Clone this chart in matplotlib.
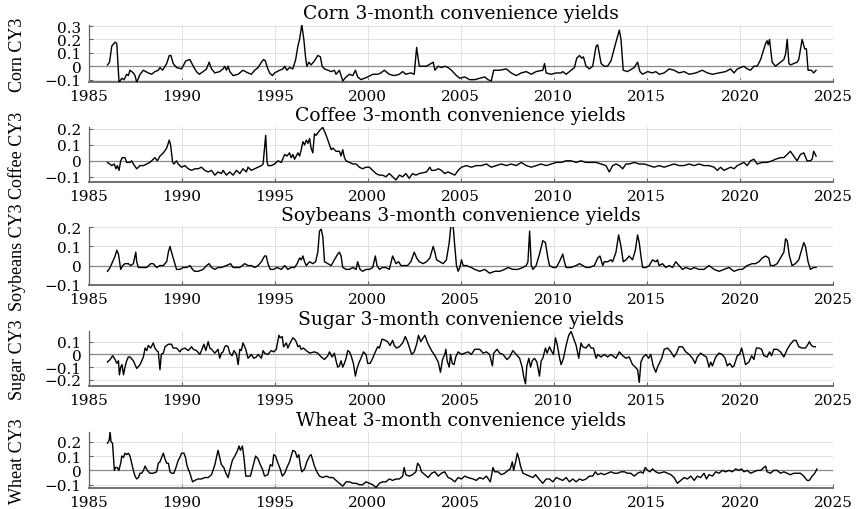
import matplotlib.pyplot as plt

plt.rcParams['font.family'] = 'DejaVu Serif'
plt.rcParams['axes.unicode_minus'] = True

# values (decimal years, convenience yield)
corn_t = [1986.02, 1986.13, 1986.25, 1986.43, 1986.52, 1986.64, 1986.79, 1986.91, 1987.05, 1987.14,
          1987.23, 1987.41, 1987.50, 1987.59, 1987.77, 1987.95, 1988.21, 1988.39, 1988.57, 1988.75,
          1988.84, 1988.98, 1989.20, 1989.34, 1989.43, 1989.55, 1989.73, 1990.00, 1990.23, 1990.45,
          1990.63, 1990.80, 1990.95, 1991.16, 1991.34, 1991.48, 1991.61, 1991.79, 1992.05, 1992.23,
          1992.32, 1992.41, 1992.50, 1992.59, 1992.77, 1993.04, 1993.30, 1993.57, 1993.75, 1993.93,
          1994.11, 1994.29, 1994.41, 1994.50, 1994.61, 1994.73, 1994.88, 1995.00, 1995.27, 1995.45,
          1995.54, 1995.66, 1995.80, 1995.98, 1996.13, 1996.25, 1996.34, 1996.46, 1996.57, 1996.66,
          1996.73, 1996.84, 1996.96, 1997.14, 1997.32, 1997.46, 1997.55, 1997.68, 1997.86, 1998.04,
          1998.21, 1998.30, 1998.48, 1998.66, 1998.84, 1999.02, 1999.20, 1999.34, 1999.46, 1999.64,
          1999.82, 2000.00, 2000.27, 2000.54, 2000.71, 2000.89, 2001.16, 2001.43, 2001.70, 2001.88,
          2002.05, 2002.32, 2002.50, 2002.63, 2002.77, 2003.16, 2003.52, 2003.61, 2003.79, 2003.96,
          2004.14, 2004.32, 2004.50, 2004.77, 2004.95, 2005.21, 2005.48, 2005.75, 2006.02, 2006.29,
          2006.46, 2006.64, 2006.77, 2007.09, 2007.45, 2007.71, 2007.98, 2008.25, 2008.52, 2008.79,
          2009.05, 2009.41, 2009.50, 2009.59, 2009.86, 2010.13, 2010.39, 2010.48, 2010.66, 2010.93,
          2011.11, 2011.23, 2011.38, 2011.50, 2011.59, 2011.73, 2011.91, 2012.09, 2012.27, 2012.36,
          2012.54, 2012.71, 2012.89, 2013.07, 2013.34, 2013.52, 2013.61, 2013.73, 2013.96, 2014.32,
          2014.50, 2014.63, 2014.77, 2015.04, 2015.30, 2015.48, 2015.66, 2015.93, 2016.20, 2016.46,
          2016.73, 2017.00, 2017.27, 2017.63, 2017.98, 2018.25, 2018.52, 2018.88, 2019.23, 2019.50,
          2019.68, 2019.86, 2020.04, 2020.21, 2020.39, 2020.57, 2020.75, 2020.93, 2021.11, 2021.29,
          2021.38, 2021.46, 2021.52, 2021.59, 2021.73, 2021.91, 2022.09, 2022.36, 2022.45, 2022.54,
          2022.63, 2022.71, 2022.89, 2023.07, 2023.16, 2023.34, 2023.48, 2023.57, 2023.66, 2023.84,
          2023.96, 2024.09]
corn_cy = [0.01, 0.03, 0.15, 0.18, 0.17, -0.12, -0.09, -0.10, -0.06, -0.07,
           -0.03, -0.05, -0.07, -0.12, -0.06, -0.03, -0.05, -0.06, -0.04, -0.03,
           -0.01, -0.03, 0.02, 0.08, 0.08, 0.02, -0.01, -0.02, 0.04, 0.05,
           0.00, -0.04, -0.06, -0.04, -0.02, 0.03, -0.02, -0.05, -0.04, -0.02,
           0.00, -0.03, 0.00, -0.04, -0.07, -0.06, -0.03, -0.05, -0.06, -0.03,
           -0.01, 0.03, 0.05, 0.04, -0.01, -0.05, -0.07, -0.05, -0.03, -0.02,
           0.00, -0.03, -0.01, -0.02, 0.05, 0.15, 0.20, 0.31, 0.20, 0.07,
           0.00, 0.03, 0.01, 0.04, 0.08, 0.07, 0.00, -0.02, -0.03, -0.04,
           -0.03, -0.06, -0.03, -0.11, -0.08, -0.06, -0.07, -0.03, -0.08, -0.10,
           -0.09, -0.08, -0.06, -0.06, -0.05, -0.03, -0.06, -0.07, -0.06, -0.04,
           -0.06, -0.05, -0.06, 0.14, 0.00, 0.00, 0.03, -0.03, 0.00, -0.01,
           0.00, -0.01, -0.03, -0.07, -0.09, -0.08, -0.10, -0.10, -0.09, -0.08,
           -0.10, -0.11, -0.03, -0.03, -0.02, -0.05, -0.07, -0.05, -0.04, -0.06,
           -0.04, -0.03, 0.02, -0.05, -0.06, -0.05, -0.05, -0.04, -0.06, -0.03,
           -0.01, 0.06, 0.08, 0.06, 0.07, 0.00, -0.02, 0.00, 0.15, 0.16,
           0.02, 0.00, 0.00, 0.04, 0.18, 0.27, 0.20, -0.03, -0.04, -0.01,
           0.03, -0.04, -0.06, -0.04, -0.05, -0.04, -0.06, -0.05, -0.02, -0.03,
           -0.05, -0.04, -0.06, -0.05, -0.03, -0.05, -0.06, -0.05, -0.04, -0.02,
           -0.05, -0.02, -0.01, 0.00, -0.02, -0.03, 0.00, 0.00, 0.05, 0.13,
           0.17, 0.19, 0.16, 0.20, 0.03, 0.00, 0.02, 0.05, 0.09, 0.20,
           0.02, 0.01, 0.02, 0.03, 0.05, 0.20, 0.13, 0.13, -0.03, -0.03,
           -0.05, -0.03]

coffee_t = [1986.02, 1986.25, 1986.38, 1986.48, 1986.55, 1986.64, 1986.73, 1986.82, 1986.96, 1987.05,
            1987.23, 1987.32, 1987.41, 1987.59, 1987.77, 1987.95, 1988.13, 1988.30, 1988.48, 1988.57,
            1988.70, 1988.84, 1989.02, 1989.20, 1989.34, 1989.41, 1989.52, 1989.59, 1989.73, 1989.82,
            1990.00, 1990.18, 1990.36, 1990.54, 1990.71, 1990.89, 1991.07, 1991.25, 1991.43, 1991.61,
            1991.79, 1991.96, 1992.14, 1992.23, 1992.41, 1992.59, 1992.77, 1992.95, 1993.13, 1993.30,
            1993.48, 1993.57, 1993.75, 1993.93, 1994.11, 1994.29, 1994.38, 1994.46, 1994.52, 1994.59,
            1994.64, 1994.82, 1995.00, 1995.18, 1995.36, 1995.54, 1995.66, 1995.80, 1995.89, 1995.98,
            1996.07, 1996.25, 1996.34, 1996.43, 1996.52, 1996.61, 1996.70, 1996.79, 1996.88, 1996.96,
            1997.05, 1997.14, 1997.23, 1997.41, 1997.59, 1997.77, 1997.86, 1997.95, 1998.04, 1998.13,
            1998.30, 1998.48, 1998.57, 1998.66, 1998.75, 1998.84, 1999.02, 1999.20, 1999.38, 1999.55,
            1999.73, 1999.91, 2000.09, 2000.27, 2000.45, 2000.63, 2000.80, 2000.98, 2001.16, 2001.34,
            2001.52, 2001.70, 2001.88, 2002.05, 2002.23, 2002.41, 2002.59, 2002.77, 2003.16, 2003.34,
            2003.43, 2003.61, 2003.79, 2003.96, 2004.14, 2004.32, 2004.50, 2004.68, 2004.86, 2005.04,
            2005.30, 2005.57, 2005.84, 2006.11, 2006.38, 2006.64, 2006.91, 2007.18, 2007.45, 2007.71,
            2007.98, 2008.25, 2008.52, 2008.79, 2009.05, 2009.32, 2009.59, 2009.86, 2010.13, 2010.39,
            2010.66, 2010.93, 2011.20, 2011.46, 2011.73, 2012.00, 2012.27, 2012.54, 2012.80, 2012.98,
            2013.16, 2013.34, 2013.52, 2013.70, 2013.88, 2014.05, 2014.32, 2014.59, 2014.86, 2015.13,
            2015.39, 2015.66, 2015.93, 2016.20, 2016.46, 2016.73, 2017.00, 2017.27, 2017.54, 2017.80,
            2018.07, 2018.34, 2018.61, 2018.79, 2018.96, 2019.14, 2019.32, 2019.50, 2019.68, 2019.86,
            2020.04, 2020.21, 2020.39, 2020.57, 2020.75, 2020.93, 2021.20, 2021.46, 2021.73, 2021.91,
            2022.18, 2022.36, 2022.54, 2022.71, 2022.89, 2023.07, 2023.25, 2023.43, 2023.61, 2023.79,
            2023.88, 2023.96, 2024.09]
coffee_cy = [-0.01, -0.03, -0.02, -0.05, -0.03, -0.06, 0.00, 0.02, 0.02, -0.01,
             -0.01, 0.00, -0.02, -0.05, -0.03, -0.03, -0.02, -0.01, 0.01, 0.02,
             0.00, 0.03, 0.05, 0.08, 0.13, 0.10, -0.01, -0.02, 0.00, -0.02,
             -0.04, -0.03, -0.05, -0.06, -0.05, -0.05, -0.04, -0.06, -0.07, -0.06,
             -0.09, -0.07, -0.08, -0.06, -0.09, -0.07, -0.09, -0.06, -0.08, -0.05,
             -0.07, -0.04, -0.06, -0.05, -0.04, -0.03, -0.02, 0.08, 0.16, 0.00,
             -0.03, -0.03, -0.02, 0.00, -0.01, 0.04, 0.03, 0.05, 0.02, 0.04,
             0.01, 0.05, 0.03, 0.07, 0.12, 0.10, 0.13, 0.11, 0.14, 0.08,
             0.05, 0.17, 0.16, 0.19, 0.21, 0.16, 0.13, 0.10, 0.07, 0.08,
             0.06, 0.06, 0.03, 0.07, 0.02, 0.00, -0.01, -0.02, -0.02, -0.04,
             -0.05, -0.04, -0.04, -0.06, -0.08, -0.09, -0.09, -0.10, -0.08, -0.10,
             -0.12, -0.09, -0.10, -0.08, -0.11, -0.08, -0.09, -0.08, -0.07, -0.04,
             -0.06, -0.06, -0.05, -0.06, -0.08, -0.07, -0.08, -0.09, -0.06, -0.04,
             -0.03, -0.04, -0.03, -0.03, -0.02, -0.04, -0.03, -0.02, -0.03, -0.02,
             -0.03, -0.01, -0.03, -0.04, -0.03, -0.02, -0.03, -0.02, -0.01, -0.01,
             0.00, 0.00, -0.01, 0.00, -0.01, -0.01, -0.01, -0.02, -0.03, -0.07,
             -0.03, -0.02, -0.03, -0.05, -0.02, -0.02, -0.01, -0.02, -0.02, -0.03,
             -0.04, -0.03, -0.04, -0.03, -0.02, -0.03, -0.03, -0.02, -0.03, -0.02,
             -0.03, -0.03, -0.04, -0.06, -0.04, -0.06, -0.05, -0.04, -0.05, -0.03,
             -0.02, -0.01, -0.03, 0.00, 0.01, -0.02, -0.01, -0.01, 0.00, 0.01,
             0.02, 0.02, 0.04, 0.06, 0.03, 0.00, 0.04, 0.05, 0.00, 0.00,
             0.01, 0.06, 0.03]

soy_t = [1986.02, 1986.16, 1986.34, 1986.43, 1986.52, 1986.61, 1986.73, 1986.84, 1986.96, 1987.14,
         1987.27, 1987.41, 1987.54, 1987.59, 1987.68, 1987.86, 1988.13, 1988.34, 1988.48, 1988.66,
         1988.84, 1989.02, 1989.20, 1989.29, 1989.38, 1989.46, 1989.55, 1989.64, 1989.73, 1989.91,
         1990.09, 1990.27, 1990.45, 1990.59, 1990.71, 1990.89, 1991.16, 1991.34, 1991.48, 1991.61,
         1991.79, 1991.96, 1992.14, 1992.41, 1992.63, 1992.77, 1992.95, 1993.13, 1993.39, 1993.57,
         1993.75, 1993.93, 1994.11, 1994.29, 1994.46, 1994.55, 1994.64, 1994.77, 1994.95, 1995.13,
         1995.36, 1995.54, 1995.71, 1995.89, 1996.07, 1996.21, 1996.34, 1996.43, 1996.52, 1996.61,
         1996.70, 1996.88, 1997.05, 1997.20, 1997.32, 1997.41, 1997.50, 1997.59, 1997.68, 1997.86,
         1998.04, 1998.21, 1998.39, 1998.48, 1998.57, 1998.66, 1998.84, 1999.02, 1999.20, 1999.38,
         1999.46, 1999.59, 1999.73, 1999.91, 2000.09, 2000.27, 2000.41, 2000.50, 2000.63, 2000.80,
         2000.98, 2001.16, 2001.34, 2001.43, 2001.52, 2001.66, 2001.79, 2001.96, 2002.14, 2002.32,
         2002.50, 2002.63, 2002.77, 2002.98, 2003.16, 2003.34, 2003.52, 2003.61, 2003.70, 2003.88,
         2004.05, 2004.23, 2004.38, 2004.46, 2004.59, 2004.68, 2004.77, 2004.86, 2004.95, 2005.04,
         2005.13, 2005.30, 2005.57, 2005.75, 2006.02, 2006.29, 2006.55, 2006.82, 2007.09, 2007.36,
         2007.54, 2007.80, 2008.07, 2008.34, 2008.52, 2008.61, 2008.70, 2008.79, 2008.88, 2009.05,
         2009.23, 2009.41, 2009.55, 2009.68, 2009.77, 2009.95, 2010.13, 2010.30, 2010.48, 2010.57,
         2010.66, 2010.93, 2011.20, 2011.38, 2011.55, 2011.73, 2011.91, 2012.18, 2012.36, 2012.48,
         2012.63, 2012.71, 2012.89, 2013.07, 2013.16, 2013.34, 2013.48, 2013.61, 2013.73, 2013.88,
         2014.05, 2014.23, 2014.38, 2014.50, 2014.59, 2014.68, 2014.77, 2014.95, 2015.13, 2015.30,
         2015.48, 2015.57, 2015.66, 2015.84, 2016.02, 2016.20, 2016.38, 2016.55, 2016.73, 2016.91,
         2017.09, 2017.36, 2017.54, 2017.80, 2018.07, 2018.34, 2018.61, 2018.88, 2019.14, 2019.41,
         2019.68, 2019.95, 2020.13, 2020.39, 2020.66, 2020.84, 2021.02, 2021.20, 2021.38, 2021.55,
         2021.64, 2021.82, 2022.00, 2022.18, 2022.36, 2022.45, 2022.54, 2022.66, 2022.80, 2022.98,
         2023.16, 2023.34, 2023.43, 2023.52, 2023.66, 2023.79, 2023.96, 2024.09]
soy_cy = [-0.03, -0.01, 0.03, 0.05, 0.08, 0.06, -0.02, 0.00, 0.01, 0.01,
          0.00, 0.01, 0.07, 0.02, -0.01, -0.01, -0.01, 0.01, 0.01, -0.01,
          0.00, 0.00, 0.02, 0.07, 0.10, 0.07, 0.04, 0.01, -0.02, -0.02,
          -0.01, -0.01, 0.00, -0.02, -0.03, -0.03, -0.02, 0.00, 0.01, -0.01,
          -0.02, -0.01, -0.01, 0.00, 0.01, -0.01, -0.01, -0.01, 0.01, 0.00,
          0.00, -0.01, 0.00, 0.02, 0.05, 0.05, 0.01, -0.02, -0.02, -0.01,
          -0.02, 0.00, -0.02, -0.01, -0.01, 0.01, 0.04, 0.03, 0.05, 0.02,
          0.00, 0.02, 0.01, 0.02, 0.07, 0.18, 0.19, 0.15, 0.02, 0.01,
          0.00, 0.03, 0.06, 0.07, 0.05, -0.01, -0.02, -0.02, -0.01, -0.02,
          0.02, -0.02, -0.03, -0.02, -0.02, -0.01, 0.05, 0.00, -0.02, -0.01,
          -0.01, -0.02, 0.05, 0.03, 0.01, 0.02, 0.00, 0.00, 0.00, 0.02,
          0.07, 0.04, 0.02, 0.01, 0.02, 0.04, 0.10, 0.07, 0.03, 0.02,
          0.01, 0.03, 0.12, 0.20, 0.21, 0.10, 0.00, -0.03, -0.01, 0.03,
          0.00, 0.00, -0.01, -0.02, -0.03, -0.02, -0.04, -0.03, -0.03, -0.02,
          -0.01, -0.02, -0.02, -0.01, 0.00, 0.02, 0.18, 0.00, -0.02, 0.00,
          0.06, 0.13, 0.12, 0.04, 0.00, -0.01, -0.01, 0.02, 0.06, 0.02,
          -0.01, -0.01, 0.00, 0.01, 0.00, -0.01, -0.01, 0.00, 0.04, 0.05,
          0.00, 0.02, 0.02, 0.03, 0.02, 0.07, 0.16, 0.10, 0.02, 0.03,
          0.05, 0.03, 0.08, 0.16, 0.12, 0.05, -0.01, -0.01, 0.00, 0.03,
          0.02, 0.03, 0.00, 0.01, -0.01, 0.00, -0.01, 0.02, 0.00, -0.02,
          -0.01, -0.02, -0.01, -0.02, -0.02, 0.00, -0.02, -0.03, -0.02, -0.01,
          -0.03, -0.02, -0.02, 0.00, 0.01, 0.01, 0.02, 0.04, 0.05, 0.04,
          0.00, 0.00, 0.01, 0.04, 0.07, 0.14, 0.13, 0.05, 0.00, 0.01,
          0.03, 0.09, 0.12, 0.10, 0.02, -0.02, -0.01, -0.01]

sugar_t = [1986.02, 1986.16, 1986.30, 1986.43, 1986.52, 1986.61, 1986.66, 1986.73, 1986.80, 1986.88,
           1986.96, 1987.05, 1987.14, 1987.23, 1987.41, 1987.59, 1987.77, 1987.95, 1988.04, 1988.13,
           1988.21, 1988.34, 1988.48, 1988.57, 1988.66, 1988.75, 1988.84, 1988.91, 1989.02, 1989.11,
           1989.20, 1989.29, 1989.46, 1989.55, 1989.73, 1989.91, 1990.00, 1990.18, 1990.36, 1990.54,
           1990.63, 1990.80, 1990.98, 1991.07, 1991.20, 1991.30, 1991.43, 1991.52, 1991.61, 1991.79,
           1991.96, 1992.05, 1992.14, 1992.23, 1992.32, 1992.41, 1992.50, 1992.59, 1992.71, 1992.82,
           1992.95, 1993.04, 1993.13, 1993.21, 1993.30, 1993.45, 1993.57, 1993.75, 1993.88, 1994.02,
           1994.11, 1994.29, 1994.38, 1994.46, 1994.64, 1994.82, 1994.95, 1995.09, 1995.23, 1995.30,
           1995.41, 1995.48, 1995.63, 1995.71, 1995.80, 1995.98, 1996.07, 1996.16, 1996.25, 1996.34,
           1996.43, 1996.55, 1996.70, 1996.88, 1997.14, 1997.32, 1997.50, 1997.68, 1997.86, 1997.95,
           1998.09, 1998.21, 1998.30, 1998.39, 1998.48, 1998.57, 1998.66, 1998.75, 1998.84, 1998.93,
           1999.02, 1999.11, 1999.23, 1999.34, 1999.41, 1999.52, 1999.64, 1999.77, 1999.91, 2000.00,
           2000.13, 2000.27, 2000.41, 2000.54, 2000.63, 2000.77, 2000.95, 2001.07, 2001.20, 2001.34,
           2001.43, 2001.55, 2001.70, 2001.88, 2002.02, 2002.14, 2002.23, 2002.36, 2002.50, 2002.63,
           2002.73, 2002.85, 2003.07, 2003.25, 2003.43, 2003.61, 2003.79, 2003.91, 2004.02, 2004.14,
           2004.20, 2004.27, 2004.38, 2004.45, 2004.54, 2004.64, 2004.73, 2004.86, 2005.04, 2005.21,
           2005.39, 2005.57, 2005.75, 2006.02, 2006.20, 2006.38, 2006.55, 2006.70, 2006.77, 2006.95,
           2007.09, 2007.27, 2007.48, 2007.63, 2007.80, 2007.98, 2008.16, 2008.30, 2008.39, 2008.48,
           2008.55, 2008.66, 2008.75, 2008.84, 2008.96, 2009.09, 2009.23, 2009.32, 2009.41, 2009.55,
           2009.64, 2009.77, 2009.86, 2009.98, 2010.09, 2010.18, 2010.30, 2010.39, 2010.52, 2010.66,
           2010.80, 2010.93, 2011.05, 2011.20, 2011.34, 2011.46, 2011.55, 2011.73, 2011.88, 2012.00,
           2012.13, 2012.27, 2012.36, 2012.54, 2012.71, 2012.89, 2013.07, 2013.34, 2013.52, 2013.70,
           2013.88, 2014.05, 2014.23, 2014.38, 2014.50, 2014.59, 2014.68, 2014.80, 2014.95, 2015.09,
           2015.21, 2015.34, 2015.48, 2015.57, 2015.70, 2015.80, 2015.93, 2016.11, 2016.29, 2016.46,
           2016.59, 2016.73, 2016.91, 2017.09, 2017.27, 2017.45, 2017.59, 2017.71, 2017.89, 2018.07,
           2018.20, 2018.34, 2018.43, 2018.52, 2018.70, 2018.88, 2019.05, 2019.20, 2019.32, 2019.45,
           2019.59, 2019.68, 2019.86, 2019.98, 2020.09, 2020.21, 2020.30, 2020.48, 2020.63, 2020.75,
           2020.88, 2021.02, 2021.16, 2021.29, 2021.46, 2021.59, 2021.70, 2021.82, 2022.00, 2022.18,
           2022.36, 2022.54, 2022.71, 2022.89, 2023.02, 2023.16, 2023.34, 2023.52, 2023.66, 2023.73,
           2023.84, 2023.96, 2024.05]
sugar_cy = [-0.06, -0.04, -0.01, -0.04, -0.07, -0.05, -0.16, -0.10, -0.08, -0.16,
            -0.10, -0.05, -0.02, -0.02, -0.05, -0.11, -0.08, -0.02, 0.05, 0.03,
            0.07, 0.05, 0.09, 0.05, 0.03, 0.02, -0.12, 0.00, 0.01, 0.06,
            0.07, 0.08, 0.08, 0.05, 0.05, 0.02, 0.04, 0.05, 0.03, 0.06,
            0.04, 0.03, 0.00, 0.03, 0.08, 0.03, 0.10, 0.05, 0.04, 0.01,
            0.04, -0.03, 0.01, 0.02, 0.06, 0.07, 0.06, 0.01, -0.01, 0.03,
            0.00, -0.08, 0.04, 0.03, 0.09, 0.04, -0.03, 0.00, -0.03, -0.02,
            0.00, -0.03, 0.03, 0.01, 0.00, 0.03, 0.02, 0.04, 0.15, 0.13,
            0.14, 0.06, 0.09, 0.05, 0.08, 0.13, 0.12, 0.10, 0.06, 0.07,
            0.04, 0.05, 0.03, 0.01, 0.02, 0.01, -0.02, -0.04, -0.01, 0.02,
            -0.02, 0.01, -0.05, -0.10, -0.09, -0.05, -0.10, -0.07, -0.03, 0.03,
            0.02, -0.01, -0.07, -0.17, -0.12, -0.07, -0.03, 0.02, 0.00, -0.07,
            -0.07, -0.03, 0.02, 0.06, 0.05, 0.12, 0.11, 0.10, 0.07, 0.11,
            0.07, 0.05, 0.06, 0.09, 0.14, 0.10, 0.06, 0.00, 0.02, 0.08,
            0.15, 0.10, 0.15, 0.08, 0.03, -0.01, -0.06, -0.14, -0.04, 0.00,
            0.04, -0.05, -0.10, 0.00, -0.07, -0.08, -0.02, 0.02, 0.00, 0.01,
            0.02, 0.00, 0.04, 0.04, 0.01, 0.02, 0.00, -0.09, 0.01, 0.04,
            0.01, 0.00, -0.04, -0.02, 0.03, 0.00, -0.03, -0.10, -0.18, -0.23,
            -0.09, -0.03, -0.10, -0.05, -0.03, -0.06, -0.17, -0.05, -0.03, 0.05,
            0.01, 0.06, 0.03, 0.00, 0.13, 0.08, -0.02, -0.08, -0.03, 0.07,
            0.15, 0.18, 0.13, 0.07, -0.03, 0.09, 0.06, 0.05, 0.08, 0.05,
            0.05, -0.03, 0.00, -0.02, 0.00, -0.02, 0.00, -0.03, 0.02, -0.01,
            -0.03, -0.02, -0.08, -0.10, -0.12, -0.22, -0.06, -0.02, 0.00, -0.03,
            0.00, -0.09, -0.14, -0.10, -0.06, -0.03, 0.04, 0.05, 0.02, -0.02,
            0.01, 0.06, 0.06, 0.02, 0.00, -0.03, -0.07, -0.02, 0.01, -0.01,
            -0.02, -0.10, -0.06, -0.09, -0.02, 0.01, 0.00, -0.03, -0.09, -0.07,
            -0.10, -0.09, -0.01, 0.00, 0.05, -0.02, -0.08, -0.06, -0.01, -0.04,
            0.05, 0.05, 0.04, -0.01, -0.02, 0.02, -0.01, 0.04, 0.04, 0.02,
            -0.02, 0.04, 0.08, 0.11, 0.11, 0.06, 0.05, 0.05, 0.08, 0.10,
            0.07, 0.06, 0.06]

wheat_t = [1986.02, 1986.11, 1986.16, 1986.21, 1986.29, 1986.34, 1986.39, 1986.45, 1986.55, 1986.63,
           1986.73, 1986.79, 1986.88, 1986.96, 1987.05, 1987.14, 1987.23, 1987.32, 1987.41, 1987.50,
           1987.59, 1987.68, 1987.77, 1987.86, 1987.95, 1988.04, 1988.16, 1988.30, 1988.48, 1988.66,
           1988.75, 1988.84, 1989.02, 1989.11, 1989.20, 1989.29, 1989.38, 1989.46, 1989.59, 1989.70,
           1989.82, 1989.91, 1990.00, 1990.13, 1990.21, 1990.30, 1990.45, 1990.59, 1990.71, 1990.89,
           1991.07, 1991.25, 1991.43, 1991.61, 1991.79, 1991.96, 1992.05, 1992.14, 1992.27, 1992.38,
           1992.50, 1992.59, 1992.73, 1992.86, 1992.98, 1993.09, 1993.16, 1993.27, 1993.36, 1993.45,
           1993.57, 1993.70, 1993.84, 1993.98, 1994.11, 1994.23, 1994.34, 1994.46, 1994.64, 1994.77,
           1994.88, 1994.95, 1995.05, 1995.18, 1995.30, 1995.41, 1995.54, 1995.66, 1995.80, 1995.98,
           1996.11, 1996.21, 1996.30, 1996.39, 1996.46, 1996.61, 1996.73, 1996.88, 1996.96, 1997.05,
           1997.14, 1997.27, 1997.41, 1997.59, 1997.77, 1997.95, 1998.13, 1998.30, 1998.48, 1998.66,
           1998.84, 1999.02, 1999.20, 1999.38, 1999.55, 1999.73, 1999.91, 2000.09, 2000.27, 2000.45,
           2000.63, 2000.80, 2000.98, 2001.16, 2001.34, 2001.52, 2001.70, 2001.88, 2001.96, 2002.05,
           2002.23, 2002.41, 2002.59, 2002.68, 2002.80, 2002.89, 2003.07, 2003.25, 2003.43, 2003.61,
           2003.79, 2003.96, 2004.14, 2004.32, 2004.50, 2004.68, 2004.86, 2005.04, 2005.21, 2005.39,
           2005.66, 2005.84, 2006.02, 2006.20, 2006.38, 2006.59, 2006.73, 2006.82, 2007.00, 2007.18,
           2007.36, 2007.54, 2007.66, 2007.77, 2007.84, 2007.95, 2008.04, 2008.13, 2008.21, 2008.34,
           2008.52, 2008.70, 2008.88, 2009.02, 2009.14, 2009.27, 2009.41, 2009.59, 2009.77, 2009.95,
           2010.13, 2010.30, 2010.48, 2010.66, 2010.84, 2011.02, 2011.20, 2011.38, 2011.55, 2011.73,
           2011.91, 2012.09, 2012.23, 2012.36, 2012.54, 2012.71, 2012.89, 2013.07, 2013.25, 2013.43,
           2013.61, 2013.79, 2013.96, 2014.14, 2014.32, 2014.50, 2014.68, 2014.80, 2014.91, 2015.04,
           2015.16, 2015.30, 2015.48, 2015.66, 2015.93, 2016.11, 2016.29, 2016.46, 2016.64, 2016.82,
           2017.00, 2017.18, 2017.36, 2017.54, 2017.71, 2017.89, 2018.07, 2018.20, 2018.34, 2018.52,
           2018.70, 2018.88, 2019.05, 2019.23, 2019.41, 2019.59, 2019.77, 2019.95, 2020.09, 2020.21,
           2020.39, 2020.57, 2020.75, 2020.93, 2021.11, 2021.20, 2021.38, 2021.46, 2021.64, 2021.82,
           2022.00, 2022.18, 2022.36, 2022.54, 2022.71, 2022.89, 2023.07, 2023.25, 2023.43, 2023.61,
           2023.73, 2023.88, 2024.02, 2024.14]
wheat_cy = [0.19, 0.21, 0.27, 0.20, 0.19, 0.10, 0.00, 0.02, 0.02, 0.00,
            0.05, 0.10, 0.09, 0.12, 0.11, 0.12, 0.10, 0.05, 0.00, -0.04,
            -0.06, -0.05, -0.02, -0.02, 0.00, 0.03, 0.00, -0.02, -0.02, -0.01,
            0.05, 0.06, 0.12, 0.08, 0.05, 0.05, -0.01, -0.02, -0.02, 0.02,
            0.07, 0.09, 0.12, 0.12, 0.09, 0.03, -0.02, -0.08, -0.07, -0.06,
            -0.06, -0.05, -0.05, -0.03, 0.04, 0.14, 0.09, 0.04, 0.02, -0.02,
            -0.05, 0.00, 0.07, 0.10, 0.13, 0.17, 0.14, 0.17, 0.08, -0.04,
            -0.04, -0.04, 0.03, 0.10, 0.08, 0.04, 0.01, -0.04, -0.03, 0.04,
            0.03, 0.11, 0.10, 0.05, 0.01, -0.04, -0.02, 0.02, 0.06, 0.14,
            0.13, 0.09, 0.11, 0.03, -0.01, 0.01, 0.06, 0.10, 0.11, 0.07,
            0.03, -0.01, -0.04, -0.05, -0.04, -0.05, -0.05, -0.07, -0.09, -0.11,
            -0.08, -0.08, -0.09, -0.09, -0.10, -0.10, -0.08, -0.09, -0.10, -0.12,
            -0.09, -0.08, -0.08, -0.06, -0.07, -0.06, -0.06, -0.04, 0.02, -0.03,
            -0.04, -0.03, -0.01, 0.05, 0.03, -0.01, -0.03, -0.05, -0.02, -0.01,
            -0.04, -0.02, -0.01, -0.05, -0.06, -0.08, -0.05, -0.06, -0.04, -0.05,
            -0.06, -0.07, -0.05, -0.06, -0.04, -0.08, 0.02, -0.01, -0.01, -0.03,
            -0.02, 0.00, 0.01, 0.06, 0.00, 0.06, 0.12, 0.08, 0.03, -0.02,
            -0.03, -0.04, -0.05, -0.03, -0.05, -0.07, -0.09, -0.06, -0.06, -0.08,
            -0.05, -0.06, -0.07, -0.05, -0.08, -0.06, -0.08, -0.06, -0.07, -0.06,
            -0.04, -0.04, -0.01, -0.03, -0.02, -0.03, -0.02, -0.01, -0.02, -0.02,
            -0.01, -0.01, -0.02, -0.02, -0.04, -0.02, -0.01, -0.02, 0.02, 0.00,
            -0.01, 0.01, -0.01, -0.02, -0.01, -0.02, -0.03, -0.05, -0.09, -0.07,
            -0.05, -0.06, -0.04, -0.07, -0.04, -0.05, -0.02, -0.06, -0.03, -0.04,
            -0.01, -0.02, 0.00, -0.01, 0.00, -0.01, 0.01, 0.00, 0.01, -0.01,
            0.00, -0.02, -0.01, 0.00, 0.00, 0.01, 0.03, -0.01, -0.02, 0.00,
            0.00, -0.02, -0.01, -0.02, -0.03, -0.02, -0.02, -0.02, -0.04, -0.07,
            -0.07, -0.04, -0.02, 0.01]

names = ["Corn", "Coffee", "Soybeans", "Sugar", "Wheat"]
series = [(corn_t, corn_cy), (coffee_t, coffee_cy), (soy_t, soy_cy),
          (sugar_t, sugar_cy), (wheat_t, wheat_cy)]
ylims = [(-0.12, 0.31), (-0.135, 0.215), (-0.1, 0.2), (-0.25, 0.186), (-0.123, 0.27)]
yticks = [[-0.1, 0, 0.1, 0.2, 0.3], [-0.1, 0, 0.1, 0.2], [-0.1, 0, 0.1, 0.2],
          [-0.2, -0.1, 0, 0.1], [-0.1, 0, 0.1, 0.2]]
ytick_labels = [["\u22120.1", "0", "0.1", "0.2", "0.3"], ["\u22120.1", "0", "0.1", "0.2"],
                ["\u22120.1", "0", "0.1", "0.2"], ["\u22120.2", "\u22120.1", "0", "0.1"],
                ["\u22120.1", "0", "0.1", "0.2"]]
xticks = [1985, 1990, 1995, 2000, 2005, 2010, 2015, 2020, 2025]

# axes boxes in pixels (top, bottom) of the 510 px tall figure
boxes = [(25.7, 83.3), (127.6, 183.3), (228.3, 285.7), (331.7, 387.3), (432.7, 489.0)]
W, H = 861, 510
left, right = 88.5, 833.0

fig = plt.figure(figsize=(W / 100, H / 100), dpi=100)
for i in range(5):
    top, bot = boxes[i]
    ax = fig.add_axes([left / W, 1 - bot / H, (right - left) / W, (bot - top) / H])
    t, v = series[i]
    ax.plot(t, v, color='black', lw=1.0, zorder=3)
    ax.axhline(0, color='#8a8a8a', lw=0.9, zorder=2)
    ax.set_xlim(1985, 2025)
    ax.set_xticks(xticks)
    ax.set_ylim(*ylims[i])
    ax.set_yticks(yticks[i])
    ax.set_yticklabels(ytick_labels[i])
    ax.grid(True, color='#e0e0e0', lw=0.7)
    ax.set_axisbelow(True)
    for s in ['top', 'right']:
        ax.spines[s].set_visible(False)
    ax.spines['left'].set_color('#606060')
    ax.spines['left'].set_linewidth(0.9)
    ax.spines['bottom'].set_color('#707070')
    ax.spines['bottom'].set_linewidth(1.4)
    ax.tick_params(direction='in', length=3, color='#606060', labelsize=11, pad=5)
    ax.set_title(names[i] + " 3-month convenience yields", fontsize=13.5, pad=5)
    ax.set_ylabel(names[i] + " CY3", family='Liberation Serif', fontsize=13)
    ax.yaxis.set_label_coords(-0.084, 0.5)

fig.savefig('out.png', dpi=100)
